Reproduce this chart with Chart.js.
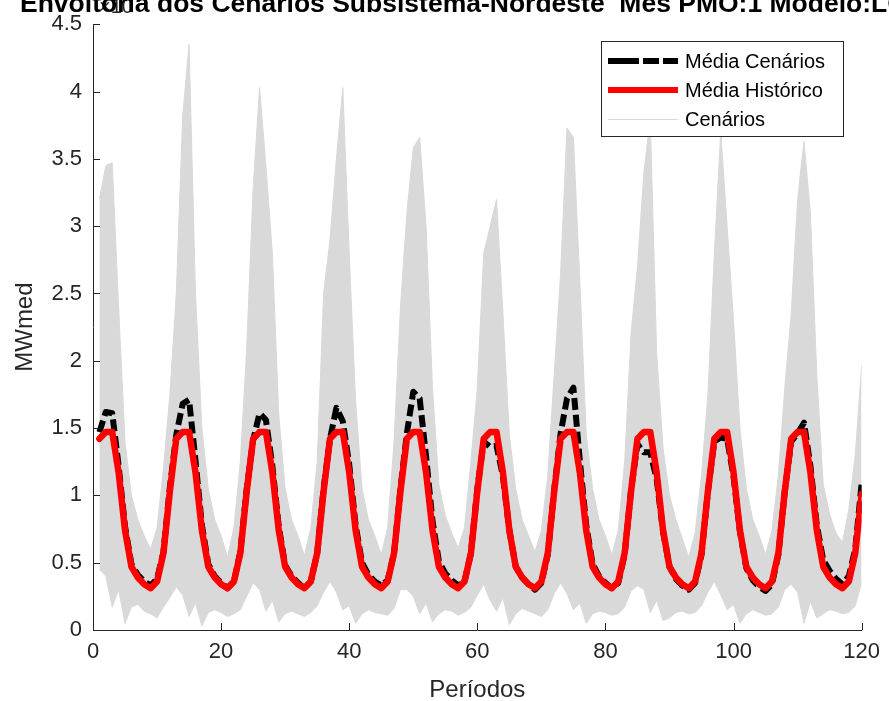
<!DOCTYPE html>
<html>
<head>
<meta charset="utf-8">
<script src="https://cdn.jsdelivr.net/npm/chart.js@4.4.1/dist/chart.umd.min.js"></script>
<style>
  html, body { margin: 0; padding: 0; background: #ffffff; }
  #wrap { width: 889px; height: 701px; }
</style>
</head>
<body>
<div id="wrap"><canvas id="chart" width="889" height="701"></canvas></div>
<script>
// Periods (months) of the planning horizon
const periodos = [
  1,2,3,4,5,6,7,8,9,10,11,12,
  13,14,15,16,17,18,19,20,21,22,23,24,
  25,26,27,28,29,30,31,32,33,34,35,36,
  37,38,39,40,41,42,43,44,45,46,47,48,
  49,50,51,52,53,54,55,56,57,58,59,60,
  61,62,63,64,65,66,67,68,69,70,71,72,
  73,74,75,76,77,78,79,80,81,82,83,84,
  85,86,87,88,89,90,91,92,93,94,95,96,
  97,98,99,100,101,102,103,104,105,106,107,108,
  109,110,111,112,113,114,115,116,117,118,119,120
];

// Values in MWmed x 10^4
const mediaHistorico = [
  1.42,1.47,1.47,1.17,0.74,0.47,0.39,0.34,0.31,0.36,0.57,1.03,
  1.42,1.47,1.47,1.17,0.74,0.47,0.39,0.34,0.31,0.36,0.57,1.03,
  1.42,1.47,1.47,1.17,0.74,0.47,0.39,0.34,0.31,0.36,0.57,1.03,
  1.42,1.47,1.47,1.17,0.74,0.47,0.39,0.34,0.31,0.36,0.57,1.03,
  1.42,1.47,1.47,1.17,0.74,0.47,0.39,0.34,0.31,0.36,0.57,1.03,
  1.42,1.47,1.47,1.17,0.74,0.47,0.39,0.34,0.31,0.36,0.57,1.03,
  1.42,1.47,1.47,1.17,0.74,0.47,0.39,0.34,0.31,0.36,0.57,1.03,
  1.42,1.47,1.47,1.17,0.74,0.47,0.39,0.34,0.31,0.36,0.57,1.03,
  1.42,1.47,1.47,1.17,0.74,0.47,0.39,0.34,0.31,0.36,0.57,1.03,
  1.42,1.47,1.47,1.17,0.74,0.47,0.39,0.34,0.31,0.36,0.57,1.01
];

const mediaCenarios = [
  1.47,1.62,1.61,1.22,0.77,0.49,0.41,0.36,0.33,0.38,0.58,1.06,
  1.45,1.68,1.71,1.26,0.78,0.49,0.40,0.35,0.31,0.36,0.58,1.05,
  1.41,1.61,1.56,1.22,0.77,0.48,0.40,0.35,0.31,0.36,0.57,1.05,
  1.42,1.65,1.55,1.23,0.78,0.50,0.41,0.36,0.33,0.37,0.57,1.05,
  1.46,1.77,1.72,1.29,0.81,0.51,0.42,0.37,0.33,0.36,0.57,1.05,
  1.40,1.36,1.37,1.14,0.74,0.47,0.39,0.34,0.30,0.35,0.56,1.04,
  1.46,1.72,1.80,1.26,0.78,0.49,0.40,0.35,0.31,0.35,0.56,1.04,
  1.38,1.32,1.32,1.12,0.73,0.47,0.38,0.33,0.30,0.35,0.56,1.03,
  1.40,1.43,1.42,1.14,0.73,0.46,0.37,0.32,0.29,0.34,0.56,1.03,
  1.40,1.46,1.54,1.22,0.78,0.52,0.44,0.38,0.34,0.40,0.60,1.09
];

// Upper and lower limits of the scenario set in each period
const cenariosMax = [
  3.20,3.45,3.47,2.40,1.40,1.00,0.82,0.70,0.60,0.76,1.20,1.75,
  2.50,3.82,4.35,2.50,1.50,1.05,0.82,0.70,0.54,0.76,1.25,2.10,
  3.28,4.03,3.45,2.80,1.60,1.05,0.82,0.70,0.55,0.76,1.25,2.50,
  2.90,3.50,4.03,2.80,1.70,1.05,0.82,0.70,0.56,0.76,1.40,2.40,
  3.10,3.58,3.66,3.00,1.80,1.08,0.85,0.72,0.61,0.76,1.25,1.80,
  2.80,3.00,3.20,2.35,1.45,1.05,0.82,0.70,0.58,0.74,1.15,1.90,
  2.65,3.73,3.66,2.60,1.45,1.05,0.82,0.70,0.56,0.74,1.25,2.20,
  2.70,3.40,3.80,2.05,1.35,1.00,0.82,0.68,0.54,0.72,1.15,1.75,
  2.80,3.70,3.00,2.30,1.50,1.05,0.82,0.70,0.56,0.74,1.15,1.80,
  2.35,3.20,3.63,3.10,1.90,1.08,0.86,0.72,0.65,0.90,1.30,1.97
];

const cenariosMin = [
  0.45,0.40,0.17,0.30,0.05,0.17,0.19,0.14,0.12,0.09,0.17,0.24,
  0.32,0.26,0.10,0.20,0.03,0.13,0.15,0.13,0.10,0.12,0.15,0.25,
  0.35,0.30,0.14,0.22,0.06,0.12,0.14,0.12,0.10,0.13,0.18,0.28,
  0.36,0.28,0.15,0.18,0.05,0.12,0.15,0.13,0.12,0.11,0.16,0.30,
  0.30,0.25,0.12,0.20,0.06,0.12,0.15,0.14,0.11,0.13,0.17,0.26,
  0.34,0.22,0.14,0.24,0.04,0.12,0.16,0.14,0.12,0.10,0.15,0.27,
  0.35,0.27,0.15,0.20,0.05,0.12,0.14,0.13,0.11,0.12,0.17,0.29,
  0.33,0.30,0.13,0.22,0.07,0.09,0.13,0.14,0.12,0.13,0.18,0.28,
  0.36,0.26,0.15,0.19,0.05,0.12,0.15,0.13,0.11,0.12,0.17,0.30,
  0.34,0.28,0.05,0.21,0.09,0.12,0.15,0.14,0.12,0.13,0.18,0.35
];

const xTicks = [0, 20, 40, 60, 80, 100, 120];
const yTicks = [0, 0.5, 1, 1.5, 2, 2.5, 3, 3.5, 4, 4.5];

const tituloTexto = 'Envoltória dos Cenários Subsistema-Nordeste  Mês PMO:1 Modelo:LC';
const rotuloX = 'Períodos';
const rotuloY = 'MWmed';
const legendaTextos = ['Média Cenários', 'Média Histórico', 'Cenários'];

const FONT = '"Liberation Sans", Arial, Helvetica, sans-serif';
const INK = '#262626';
const GREY = '#d9d9d9';

const pts = arr => periodos.map((p, i) => ({ x: p, y: arr[i] }));

const overlay = {
  id: 'overlay',
  afterDatasetsDraw(chart) {
    const { ctx, chartArea: a, scales: { x, y } } = chart;
    ctx.save();
    ctx.strokeStyle = INK;
    ctx.lineWidth = 1;
    ctx.beginPath();
    xTicks.forEach(v => {
      const px = Math.round(x.getPixelForValue(v)) + 0.5;
      ctx.moveTo(px, a.bottom); ctx.lineTo(px, a.bottom - 7);
    });
    yTicks.forEach(v => {
      const py = Math.round(y.getPixelForValue(v)) + 0.5;
      ctx.moveTo(a.left, py); ctx.lineTo(a.left + 7, py);
    });
    ctx.stroke();
    ctx.restore();
  },
  afterDraw(chart) {
    const { ctx, chartArea: a } = chart;
    ctx.save();
    // exponent of the y axis
    ctx.fillStyle = INK;
    ctx.textBaseline = 'alphabetic';
    ctx.textAlign = 'left';
    ctx.font = '20px ' + FONT;
    ctx.fillText('\u00d710', a.left + 6, 13);
    ctx.font = '15px ' + FONT;
    ctx.fillText('4', a.left + 39, 2);

    // title
    ctx.fillStyle = '#000000';
    ctx.font = 'bold 26.5px ' + FONT;
    ctx.textAlign = 'left';
    ctx.fillText(tituloTexto, 20, 12);

    // axis titles
    ctx.fillStyle = INK;
    ctx.font = '24px ' + FONT;
    ctx.textAlign = 'center';
    ctx.textBaseline = 'middle';
    ctx.fillText(rotuloX, (a.left + a.right) / 2, 690);
    ctx.save();
    ctx.translate(25, (a.top + a.bottom) / 2);
    ctx.rotate(-Math.PI / 2);
    ctx.fillText(rotuloY, 0, 0);
    ctx.restore();

    // legend box
    const bx = 601, by = 41, bw = 242, bh = 95;
    ctx.fillStyle = '#ffffff';
    ctx.fillRect(bx, by, bw, bh);
    ctx.strokeStyle = INK;
    ctx.lineWidth = 1;
    ctx.strokeRect(bx + 0.5, by + 0.5, bw, bh);

    const rows = [61, 90, 119];
    const x0 = 608, x1 = 678;
    // black dashed sample
    ctx.lineCap = 'butt';
    ctx.strokeStyle = '#000000';
    ctx.lineWidth = 6;
    ctx.setLineDash([31, 4, 16, 4, 15, 10]);
    ctx.beginPath(); ctx.moveTo(x0, rows[0]); ctx.lineTo(x1, rows[0]); ctx.stroke();
    ctx.setLineDash([]);
    // red sample
    ctx.strokeStyle = '#ff0000';
    ctx.lineWidth = 6;
    ctx.beginPath(); ctx.moveTo(x0, rows[1]); ctx.lineTo(x1, rows[1]); ctx.stroke();
    // grey sample
    ctx.strokeStyle = GREY;
    ctx.lineWidth = 1;
    ctx.beginPath(); ctx.moveTo(x0, rows[2] + 0.5); ctx.lineTo(x1, rows[2] + 0.5); ctx.stroke();

    ctx.fillStyle = '#000000';
    ctx.font = '20px ' + FONT;
    ctx.textAlign = 'left';
    ctx.textBaseline = 'middle';
    legendaTextos.forEach((t, i) => ctx.fillText(t, 685, rows[i] + 1));
    ctx.restore();
  }
};

new Chart(document.getElementById('chart'), {
  type: 'line',
  data: {
    datasets: [
      {
        label: legendaTextos[1],
        data: pts(mediaHistorico),
        borderColor: '#ff0000',
        borderWidth: 6.5,
        borderJoinStyle: 'round',
        borderCapStyle: 'round',
        pointRadius: 0,
        fill: false
      },
      {
        label: legendaTextos[0],
        data: pts(mediaCenarios),
        borderColor: '#000000',
        borderWidth: 6,
        borderDash: [12, 5],
        borderJoinStyle: 'round',
        pointRadius: 0,
        fill: false
      },
      {
        label: legendaTextos[2],
        data: pts(cenariosMax),
        borderColor: GREY,
        backgroundColor: GREY,
        borderWidth: 1,
        pointRadius: 0,
        fill: '+1'
      },
      {
        label: legendaTextos[2] + ' (mín.)',
        data: pts(cenariosMin),
        borderColor: GREY,
        borderWidth: 1,
        pointRadius: 0,
        fill: false
      }
    ]
  },
  options: {
    responsive: false,
    animation: false,
    events: [],
    layout: { padding: { top: 19, right: 21, left: 0, bottom: 0 } },
    plugins: {
      legend: { display: false },
      title: { display: false },
      tooltip: { enabled: false }
    },
    scales: {
      x: {
        type: 'linear',
        min: 0, max: 120,
        afterFit: s => { s.height = 71; },
        afterBuildTicks: s => { s.ticks = xTicks.map(v => ({ value: v })); },
        grid: { display: false, drawTicks: false },
        border: { display: true, color: INK, width: 1 },
        ticks: {
          color: INK,
          font: { family: FONT, size: 22 },
          padding: 9,
          maxRotation: 0,
          callback: v => String(v)
        }
      },
      y: {
        type: 'linear',
        min: 0, max: 4.5,
        afterFit: s => { s.width = 93; },
        afterBuildTicks: s => { s.ticks = yTicks.map(v => ({ value: v })); },
        grid: { display: false, drawTicks: false },
        border: { display: true, color: INK, width: 1 },
        ticks: {
          color: INK,
          font: { family: FONT, size: 22 },
          padding: 11,
          callback: v => String(Math.round(v * 10) / 10)
        }
      }
    }
  },
  plugins: [overlay]
});
</script>
</body>
</html>
